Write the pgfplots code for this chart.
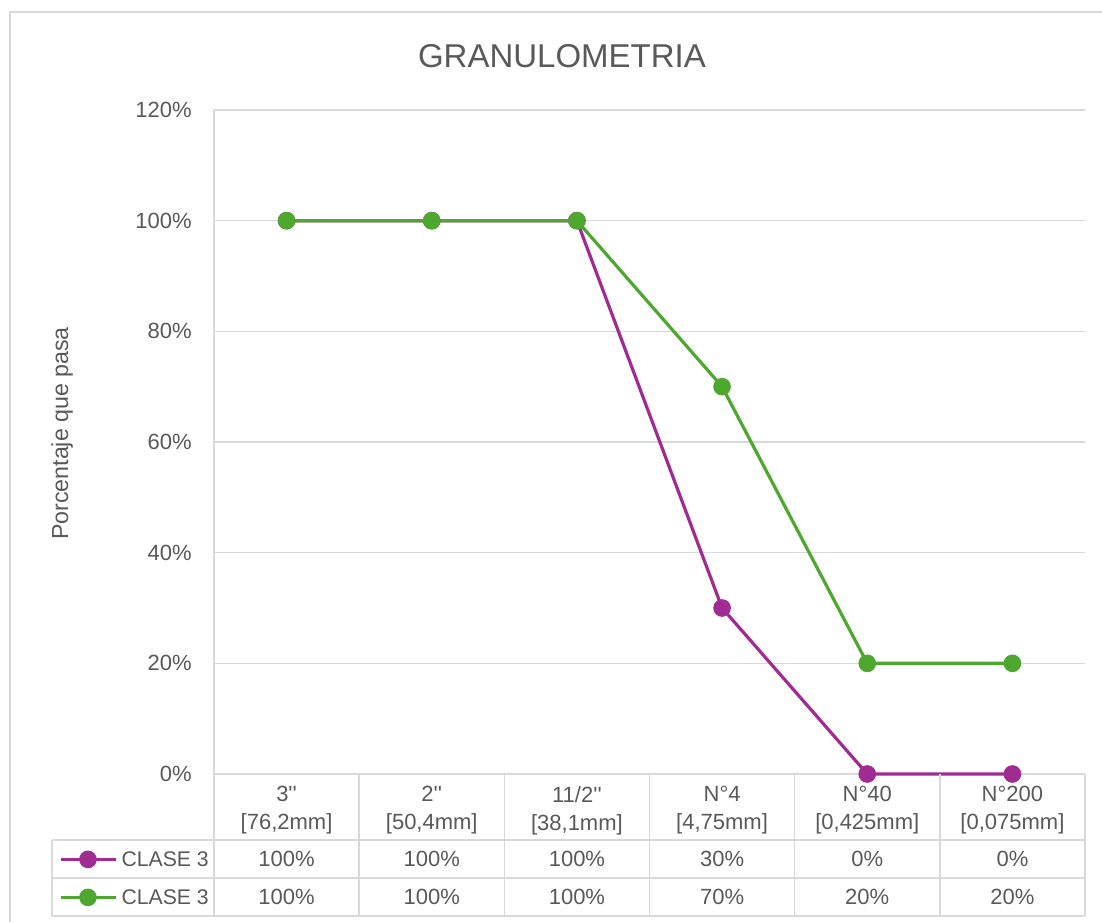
\documentclass[border=0pt]{standalone}
\usepackage{fontspec}
\setmainfont{Liberation Sans}
\usepackage{pgfplots}
\pgfplotsset{compat=1.18}
\definecolor{purp}{HTML}{A02B93}
\definecolor{grn}{HTML}{4EA72E}
\definecolor{txt}{HTML}{595959}
\definecolor{gridc}{HTML}{D9D9D9}
\newcommand{\q}{\textquotesingle\textquotesingle}
\newcommand{\tf}{\fontsize{11}{14}\selectfont}

\begin{document}
\begin{tikzpicture}
% page = 1102 x 921 px at 0.5pt per px, origin at lower left of plot area
\path[use as bounding box] (-107pt,-73.5pt) rectangle (444pt,387pt);
\draw[gridc, line width=0.8pt] (-102pt,-80pt) -- (-102pt,381pt) -- (450pt,381pt);
\begin{axis}[
  scale only axis,
  width=435.5pt, height=332pt,
  xmin=-0.5, xmax=5.5, ymin=0, ymax=120,
  clip=false,
  axis line style={draw=none},
  ytick={0,20,...,120},
  yticklabels={0\%,20\%,40\%,60\%,80\%,100\%,120\%},
  ymajorgrids,
  grid style={line width=0.6pt, gridc},
  xtick={0,...,5},
  xticklabels={{3\q\\{[76,2mm]}},{2\q\\{[50,4mm]}},{11/2\q\\{[38,1mm]}},
    {N°4\\{[4,75mm]}},{N°40\\{[0,425mm]}},{N°200\\{[0,075mm]}}},
  major tick length=0pt,
  tick label style={font=\tf, text=txt},
  yticklabel style={inner sep=0pt, xshift=-11pt},
  xticklabel style={align=center, inner sep=0pt, yshift=-6pt},
  title=GRANULOMETRIA,
  title style={at={(axis description cs:0.3995,1.0625)}, anchor=center,
    font=\fontsize{16.5}{19}\selectfont, text=txt},
  ylabel={Porcentaje que pasa},
  ylabel style={at={(axis description cs:-0.1745,0.5128)}, anchor=center,
    font=\fontsize{11.6}{14}\selectfont, text=txt},
  legend cell align=left,
  legend style={at={(axis description cs:-0.178,-0.0994)}, anchor=north west,
    draw=none, fill=none, inner sep=0pt, row sep=0pt,
    font=\fontsize{10.6}{12}\selectfont, text=txt,
    nodes={inner sep=0pt, text height=13.25pt, text depth=5.75pt}},
  legend image code/.code={
    \draw[mark repeat=2, mark phase=2, #1] plot coordinates {(0pt,0pt) (13.5pt,0pt) (27.5pt,0pt)};
    \path (29.5pt,0pt);},
  every axis plot/.append style={line width=1.6pt, mark=*, mark size=3.6pt},
]
\addplot[purp, mark options={solid, fill=purp, draw=purp}] coordinates {
  (0,100) (1,100) (2,100) (3,30) (4,0) (5,0)
};
\addlegendentry{CLASE 3}
\addplot[grn, mark options={solid, fill=grn, draw=grn}] coordinates {
  (0,100) (1,100) (2,100) (3,70) (4,20) (5,20)
};
\addlegendentry{CLASE 3}
\end{axis}
% data table grid
\begin{scope}[gridc, line width=0.8pt]
\draw (0pt,332pt) -- (0pt,-71pt);
\foreach \k in {1,...,6} {\draw ({\k*72.583pt},0pt) -- ({\k*72.583pt},-71pt);}
\draw (-81pt,-33pt) -- (435.5pt,-33pt);
\draw (-81pt,-52pt) -- (435.5pt,-52pt);
\draw (-81pt,-71pt) -- (435.5pt,-71pt);
\draw (-81pt,-33pt) -- (-81pt,-71pt);
\end{scope}
\begin{scope}[every node/.style={font=\tf, text=txt, inner sep=0pt}]
\node at (36.29pt,-42.5pt) {100\%};
\node at (108.87pt,-42.5pt) {100\%};
\node at (181.46pt,-42.5pt) {100\%};
\node at (254.04pt,-42.5pt) {30\%};
\node at (326.62pt,-42.5pt) {0\%};
\node at (399.21pt,-42.5pt) {0\%};
\node at (36.29pt,-61.5pt) {100\%};
\node at (108.87pt,-61.5pt) {100\%};
\node at (181.46pt,-61.5pt) {100\%};
\node at (254.04pt,-61.5pt) {70\%};
\node at (326.62pt,-61.5pt) {20\%};
\node at (399.21pt,-61.5pt) {20\%};
\end{scope}
\end{tikzpicture}
\end{document}
